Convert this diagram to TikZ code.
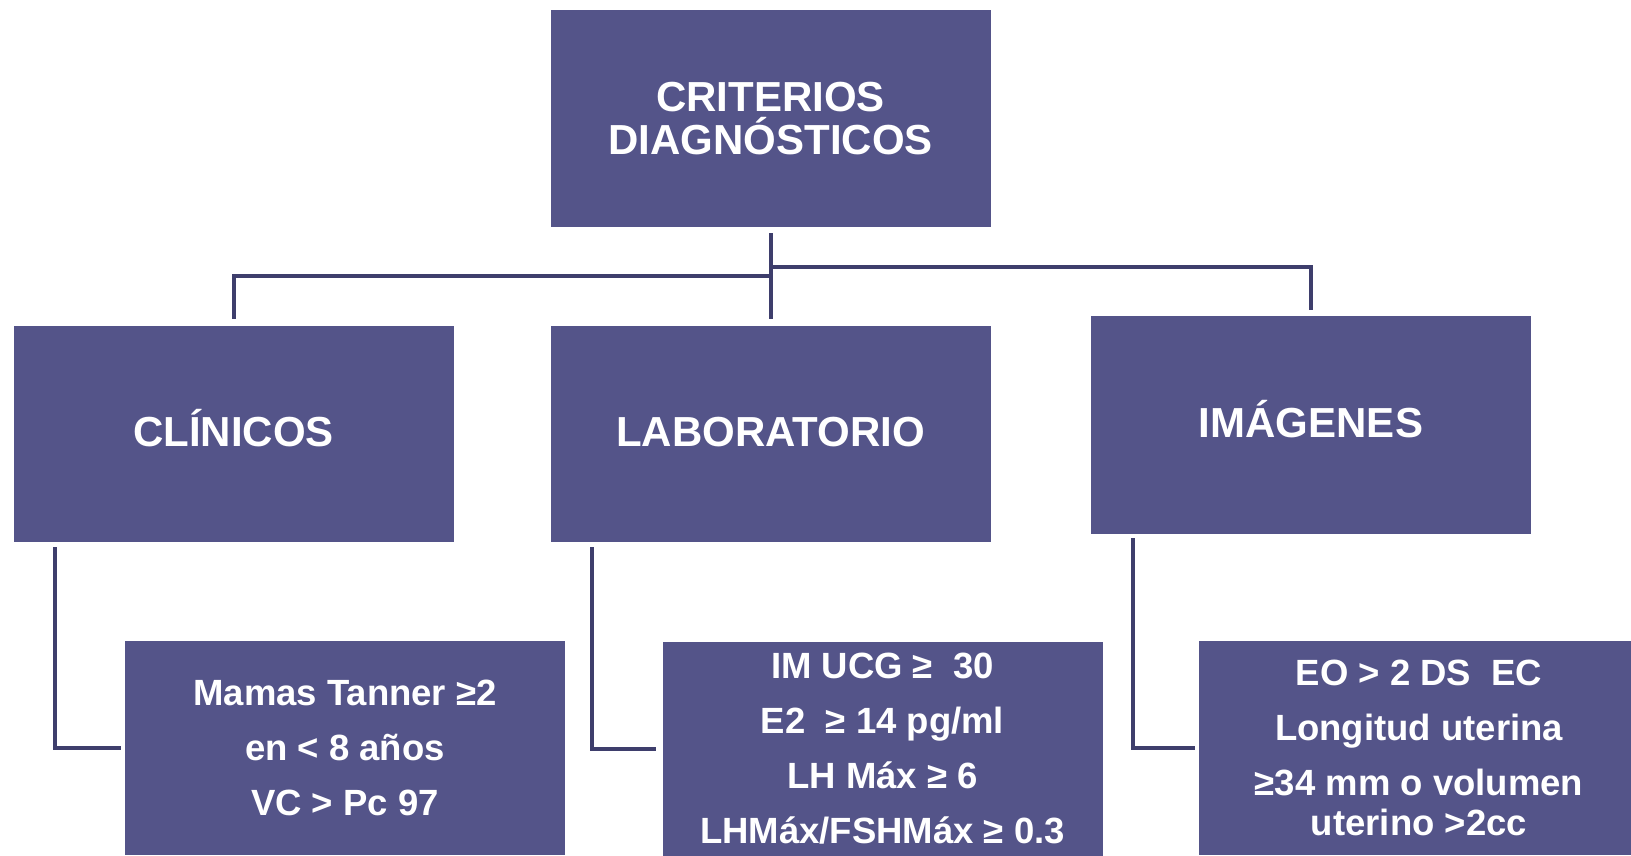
\documentclass[tikz,border=0pt]{standalone}
\usepackage{fontspec}
\setmainfont{Liberation Sans}
\definecolor{boxfill}{RGB}{84,84,137}
\definecolor{linecol}{RGB}{62,62,108}
\tikzset{
  x=1pt, y=-1pt,
  box/.style={fill=boxfill, draw=none, inner sep=0pt, text=white, align=center,
    minimum width=440pt},
  headbox/.style={box, minimum height=216pt, font=\fontsize{42}{43}\selectfont\bfseries},
  onebox/.style={headbox, text height=30pt, text depth=6pt},
  detbox/.style={box, minimum height=214pt, font=\fontsize{36.5}{55}\selectfont\bfseries},
  conn/.style={draw=linecol, line width=4pt}
}
\begin{document}
\begin{tikzpicture}
\useasboundingbox (0,0) rectangle (1631,855);
\node[headbox, minimum height=217pt] (top) at (770.5,118.5) {CRITERIOS\\DIAGNÓSTICOS};
\node[onebox] (cli) at (233.5,434) {CLÍNICOS};
\node[onebox] (lab) at (770.5,434) {LABORATORIO};
\node[onebox, minimum height=218pt] (img) at (1311,425) {IMÁGENES};
\node[detbox] (clid) at (345,748) {Mamas Tanner ≥2\\en < 8 años\\VC > Pc 97};
\node[detbox] (labd) at (882.5,749) {IM UCG ≥~ 30\\E2~ ≥ 14 pg/ml\\LH Máx ≥ 6\\LHMáx/FSHMáx ≥ 0.3};
\node[detbox] (imgd) at (1419,748) {EO > 2 DS~ EC\\Longitud uterina\\≥34 mm o volumen\\[-15pt]uterino >2cc};
\draw[conn] ([yshift=-6pt]top.south) -- ([yshift=7pt]lab.north);
\draw[conn] ([yshift=-48.5pt]top.south) -| ([yshift=7pt]cli.north);
\draw[conn] ([yshift=-40pt]top.south) -| ([yshift=6pt]img.north);
\draw[conn] ([xshift=41.5pt,yshift=-5pt]cli.south west) |- ([xshift=-4pt]clid.west);
\draw[conn] ([xshift=42pt,yshift=-5pt]lab.south west) |- ([xshift=-6pt]labd.west);
\draw[conn] ([xshift=42pt,yshift=-4pt]img.south west) |- ([xshift=-4pt]imgd.west);
\end{tikzpicture}
\end{document}
